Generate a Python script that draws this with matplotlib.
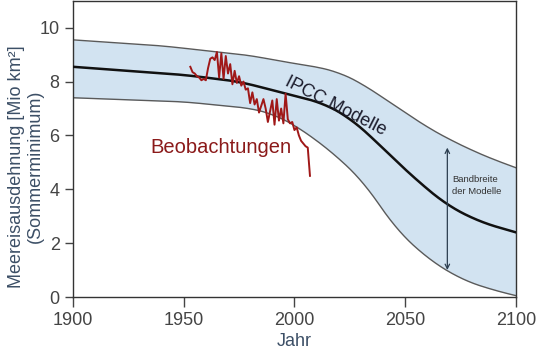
import matplotlib
matplotlib.use("Agg")
import matplotlib.pyplot as plt
import numpy as np

plt.rcParams['font.family'] = ['Liberation Sans', 'DejaVu Sans']

# Model band (IPCC)
model_years = [1900, 1925, 1950, 1975, 1994, 2013, 2025, 2034, 2044, 2055, 2069, 2084, 2100]
model_mean  = [8.55, 8.40, 8.25, 8.00, 7.60, 7.20, 6.65, 6.00, 5.20, 4.35, 3.40, 2.78, 2.40]

upper_years = [1900, 1940, 1981, 1994, 2010, 2020, 2030, 2040, 2050, 2060, 2070, 2080, 2090, 2100]
upper_vals  = [9.55, 9.33, 8.96, 8.75, 8.55, 8.35, 7.95, 7.40, 6.85, 6.30, 5.85, 5.45, 5.10, 4.80]

lower_years = [1900, 1950, 1981, 1990, 2000, 2016, 2031, 2046, 2061, 2076, 2090, 2100]
lower_vals  = [7.40, 7.25, 7.00, 6.80, 6.40, 5.45, 4.30, 2.50, 1.37, 0.63, 0.25, 0.05]

# Observations (Beobachtungen)
obs_years = list(range(1953, 2008))
obs_vals = [8.55, 8.35, 8.30, 8.20, 8.15, 8.05, 8.10, 8.05, 8.50, 8.85,
            8.90, 8.80, 9.10, 8.15, 9.05, 8.10, 8.95, 8.30, 8.65, 7.90,
            8.40, 7.95, 8.20, 7.85, 8.00, 7.70, 7.75, 7.20, 7.60, 7.15,
            7.35, 6.85, 7.10, 7.35, 7.00, 6.50, 6.90, 7.30, 6.40, 7.35,
            6.55, 7.00, 6.45, 7.55, 6.60, 6.45, 6.50, 6.20, 6.30, 6.00,
            5.80, 5.70, 5.60, 5.55, 4.50]

xticks = [1900, 1950, 2000, 2050, 2100]
yticks = [0, 2, 4, 6, 8, 10]

fig = plt.figure(figsize=(5.4, 3.56), dpi=100)
ax = fig.add_axes([0.135, 0.1657, 0.8206, 0.832])

grid = np.linspace(1900, 2100, 801)
up = np.interp(grid, upper_years, upper_vals)
lo = np.interp(grid, lower_years, lower_vals)
mn = np.interp(grid, model_years, model_mean)


def smooth(y, k=30):
    pad = np.pad(y, k, mode='reflect', reflect_type='odd')
    ker = np.ones(2 * k + 1) / (2 * k + 1)
    return np.convolve(pad, ker, mode='valid')


up, lo, mn = smooth(up), smooth(lo), smooth(mn)

ax.fill_between(grid, lo, up, color='#d2e3f1', lw=0, zorder=1)
ax.plot(grid, up, color='#5a5a5a', lw=1.0, zorder=2)
ax.plot(grid, lo, color='#5a5a5a', lw=1.0, zorder=2)
ax.plot(grid, mn, color='#111111', lw=1.8, zorder=3)

ax.plot(obs_years, obs_vals, color='#a01818', lw=1.4, zorder=4)

ax.annotate('', xy=(2069, 0.9), xytext=(2069, 5.65),
            arrowprops=dict(arrowstyle='<->', color='#2c3e50', lw=0.9,
                            mutation_scale=8), zorder=5)
ax.text(2071.0, 4.15, 'Bandbreite\nder Modelle', fontsize=6.8, color='#333333',
        ha='left', va='center', linespacing=1.5, zorder=5)

ax.text(1934.8, 5.55, 'Beobachtungen', fontsize=14.5, color='#8b1a1a',
        ha='left', va='center', zorder=5)
ax.text(2018.5, 7.1, 'IPCC Modelle', fontsize=13, color='#1a1a2a',
        ha='center', va='center', rotation=-27, zorder=5)

ax.set_xlim(1900, 2100)
ax.set_ylim(0, 11)
ax.set_xticks(xticks)
ax.set_yticks(yticks)
ax.tick_params(axis='both', labelsize=13, colors='#444444', length=7, width=1,
               direction='out')
ax.tick_params(axis='y', length=6)
for s in ax.spines.values():
    s.set_color('#333333')
    s.set_linewidth(1)

ax.set_xlabel('Jahr', fontsize=13, color='#3c4f66', labelpad=3)
ax.set_ylabel('Meereisausdehnung [Mio km²]\n(Sommerminimum)', fontsize=13,
              color='#3c4f66', linespacing=1.15)
ax.yaxis.set_label_coords(-0.065, 0.44)

fig.savefig('out.png', dpi=100)
